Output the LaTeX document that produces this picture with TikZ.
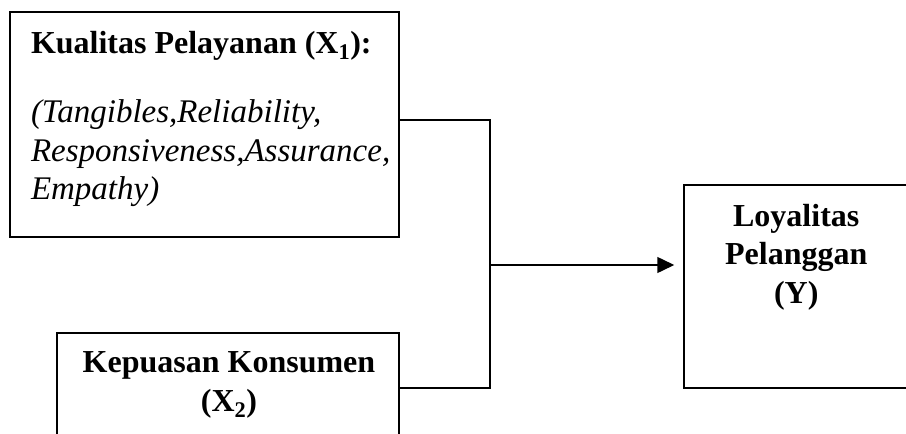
\documentclass[tikz,border=0pt]{standalone}
\usepackage{fontspec}
\setmainfont{Liberation Serif}
\usetikzlibrary{calc,arrows.meta}

\begin{document}
\begin{tikzpicture}[x=1pt,y=-1pt,line width=1.5pt,
		box/.style={draw,rectangle,inner sep=0pt},
		txt/.style={inner sep=0pt,font=\fontsize{32}{38.5}\selectfont\bfseries},
		arr/.style={-{Triangle[length=17pt,width=16pt]}}]
				\useasboundingbox (0,0) rectangle (906,434);
				
				\node[box,minimum width=389pt,minimum height=225pt] (kq) at (204.5,124.5) {};
				\node[box,minimum width=342pt,minimum height=110pt] (kp) at (228,388) {};
				\node[box,minimum width=256pt,minimum height=203pt] (ly) at (812,286.5) {};
				\coordinate (jn) at (490,265);
				
				\node[txt,anchor=north west,align=left] (kqtext) at ($(kq.north west)+(21,19)$)
					{Kualitas Pelayanan (X\textsubscript{1}):\\[31pt]
					{\fontsize{33}{38.5}\selectfont\mdseries\itshape (Tangibles,Reliability,}\\
					{\fontsize{33}{38.5}\selectfont\mdseries\itshape Responsiveness,Assurance,}\\
					{\fontsize{33}{38.5}\selectfont\mdseries\itshape Empathy)}};
				\node[txt,anchor=north,align=center] (kptext) at ($(kp.north)+(1,19)$)
					{Kepuasan Konsumen\\(X\textsubscript{2})};
				\node[txt,anchor=north,align=center] (lytext) at ($(ly.north west)+(113,19)$)
					{Loyalitas\\Pelanggan\\(Y)};
				
				\draw ($(kq.east)+(0,-4.5)$) -| (jn) |- (kp.east);
				\draw[arr,shorten >=9pt] (jn) -- (jn -| ly.west);
			\end{tikzpicture}
\end{document}
